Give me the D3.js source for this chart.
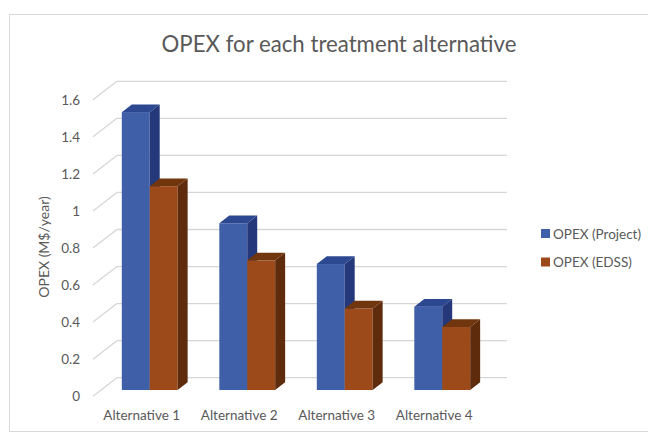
<!DOCTYPE html>
<html>
<head>
<meta charset="utf-8">
<script src="https://cdn.jsdelivr.net/npm/d3@7"></script>
<style>
  html, body { margin: 0; padding: 0; background: #ffffff; }
  svg { display: block; }
  text { font-family: Lato, "Open Sans", sans-serif; fill: #595959; }
</style>
</head>
<body>
<svg id="chart" width="648" height="436"></svg>
<script>
// Data
const categories = ["Alternative 1", "Alternative 2", "Alternative 3", "Alternative 4"];
const seriesNames = ["OPEX (Project)", "OPEX (EDSS)"];
const projectValues = [1.5, 0.9, 0.68, 0.45];
const edssValues = [1.1, 0.7, 0.44, 0.34];
const yTicks = [0, 0.2, 0.4, 0.6, 0.8, 1, 1.2, 1.4, 1.6];
const titleText = "OPEX for each treatment alternative";
const yAxisTitle = "OPEX (M$/year)";

const seriesValues = [projectValues, edssValues];
const faceColors = [
  { front: "#3f5fa9", side: "#25397a", top: "#2c4891" },
  { front: "#9d4a1b", side: "#5e2b0d", top: "#72360f" }
];

const svg = d3.select("#chart");

// Outer chart frame
svg.append("rect")
  .attr("x", 9.5).attr("y", 14.5)
  .attr("width", 660).attr("height", 417)
  .attr("fill", "none").attr("stroke", "#d9d9d9").attr("stroke-width", 1);

// 3D projection: the plot box has a depth vector (wallDx, wallDy).
// Bars sit partway into the box; scales are defined on the bar front plane.
const wallDx = 24, wallDy = -18.5;
const barFrontT = 0.335, barBackT = 0.75;
const toBackDx = wallDx * (1 - barFrontT), toBackDy = wallDy * (1 - barFrontT);
const toFrontDx = -wallDx * barFrontT, toFrontDy = -wallDy * barFrontT;
const barDepthDx = wallDx * (barBackT - barFrontT), barDepthDy = wallDy * (barBackT - barFrontT);

const y = d3.scaleLinear().domain([0, 1.6]).range([390, 390 - 1.6 * 185.25]);
const x0 = d3.scaleBand().domain(categories).range([101, 491])
  .paddingInner(0.427).paddingOuter(0.2135);
const x1 = d3.scaleBand().domain(seriesNames).range([0, x0.bandwidth()]).padding(0);

// Back wall gridlines and left-wall diagonals
const grid = svg.append("g");
yTicks.forEach(v => {
  const yb = y(v) + toBackDy;
  const xl = x0.range()[0] + toBackDx;
  const xr = x0.range()[1] + toBackDx;
  grid.append("line")
    .attr("x1", xl).attr("x2", xr).attr("y1", yb).attr("y2", yb)
    .attr("stroke", "#d6d6d6").attr("stroke-width", 1.3);
  grid.append("line")
    .attr("x1", xl).attr("y1", yb)
    .attr("x2", xl - wallDx).attr("y2", yb - wallDy)
    .attr("stroke", "#d6d6d6").attr("stroke-width", 1.3);
});

// Y tick labels on the front edge
const yAxisG = svg.append("g");
yTicks.forEach(v => {
  yAxisG.append("text")
    .attr("x", 80)
    .attr("y", y(v) + toFrontDy)
    .attr("text-anchor", "end")
    .attr("dominant-baseline", "central")
    .attr("font-size", 13.5)
    .text(d3.format("~g")(v));
});

// Bars: front, right side, top faces
const bars = svg.append("g");
categories.forEach((cat, i) => {
  seriesNames.forEach((s, j) => {
    const v = seriesValues[j][i];
    const xl = x0(cat) + x1(s);
    const xr = xl + x1.bandwidth();
    const yt = y(v), yb = y(0);
    const c = faceColors[j];
    bars.append("rect")
      .attr("x", xl).attr("y", yt)
      .attr("width", xr - xl).attr("height", yb - yt)
      .attr("fill", c.front);
    bars.append("path")
      .attr("d", d3.line()([[xr, yt], [xr + barDepthDx, yt + barDepthDy],
        [xr + barDepthDx, yb + barDepthDy], [xr, yb]]))
      .attr("fill", c.side);
    bars.append("path")
      .attr("d", d3.line()([[xl, yt], [xl + barDepthDx, yt + barDepthDy],
        [xr + barDepthDx, yt + barDepthDy], [xr, yt]]))
      .attr("fill", c.top);
  });
});

// Category labels
categories.forEach(cat => {
  svg.append("text")
    .attr("x", x0(cat) + x0.bandwidth() / 2 + toFrontDx)
    .attr("y", 415)
    .attr("text-anchor", "middle")
    .attr("dominant-baseline", "central")
    .attr("font-size", 13.5)
    .text(cat);
});

// Title, sized to its layout width
const title = svg.append("text")
  .attr("x", 339).attr("y", 52)
  .attr("text-anchor", "middle")
  .attr("font-size", 20)
  .text(titleText);
const tw = title.node().getComputedTextLength();
title.attr("font-size", 20 * 355 / tw);

// Y axis title
svg.append("text")
  .attr("transform", "translate(43,247) rotate(-90)")
  .attr("text-anchor", "middle")
  .attr("dominant-baseline", "central")
  .attr("font-size", 14)
  .text(yAxisTitle);

// Legend
const legend = svg.append("g");
seriesNames.forEach((s, j) => {
  const ly = 233.5 + j * 28.5;
  legend.append("rect")
    .attr("x", 541).attr("y", ly - 4.5)
    .attr("width", 9).attr("height", 9)
    .attr("fill", faceColors[j].front);
  legend.append("text")
    .attr("x", 553).attr("y", ly)
    .attr("dominant-baseline", "central")
    .attr("font-size", 13.5)
    .text(s);
});
</script>
</body>
</html>
